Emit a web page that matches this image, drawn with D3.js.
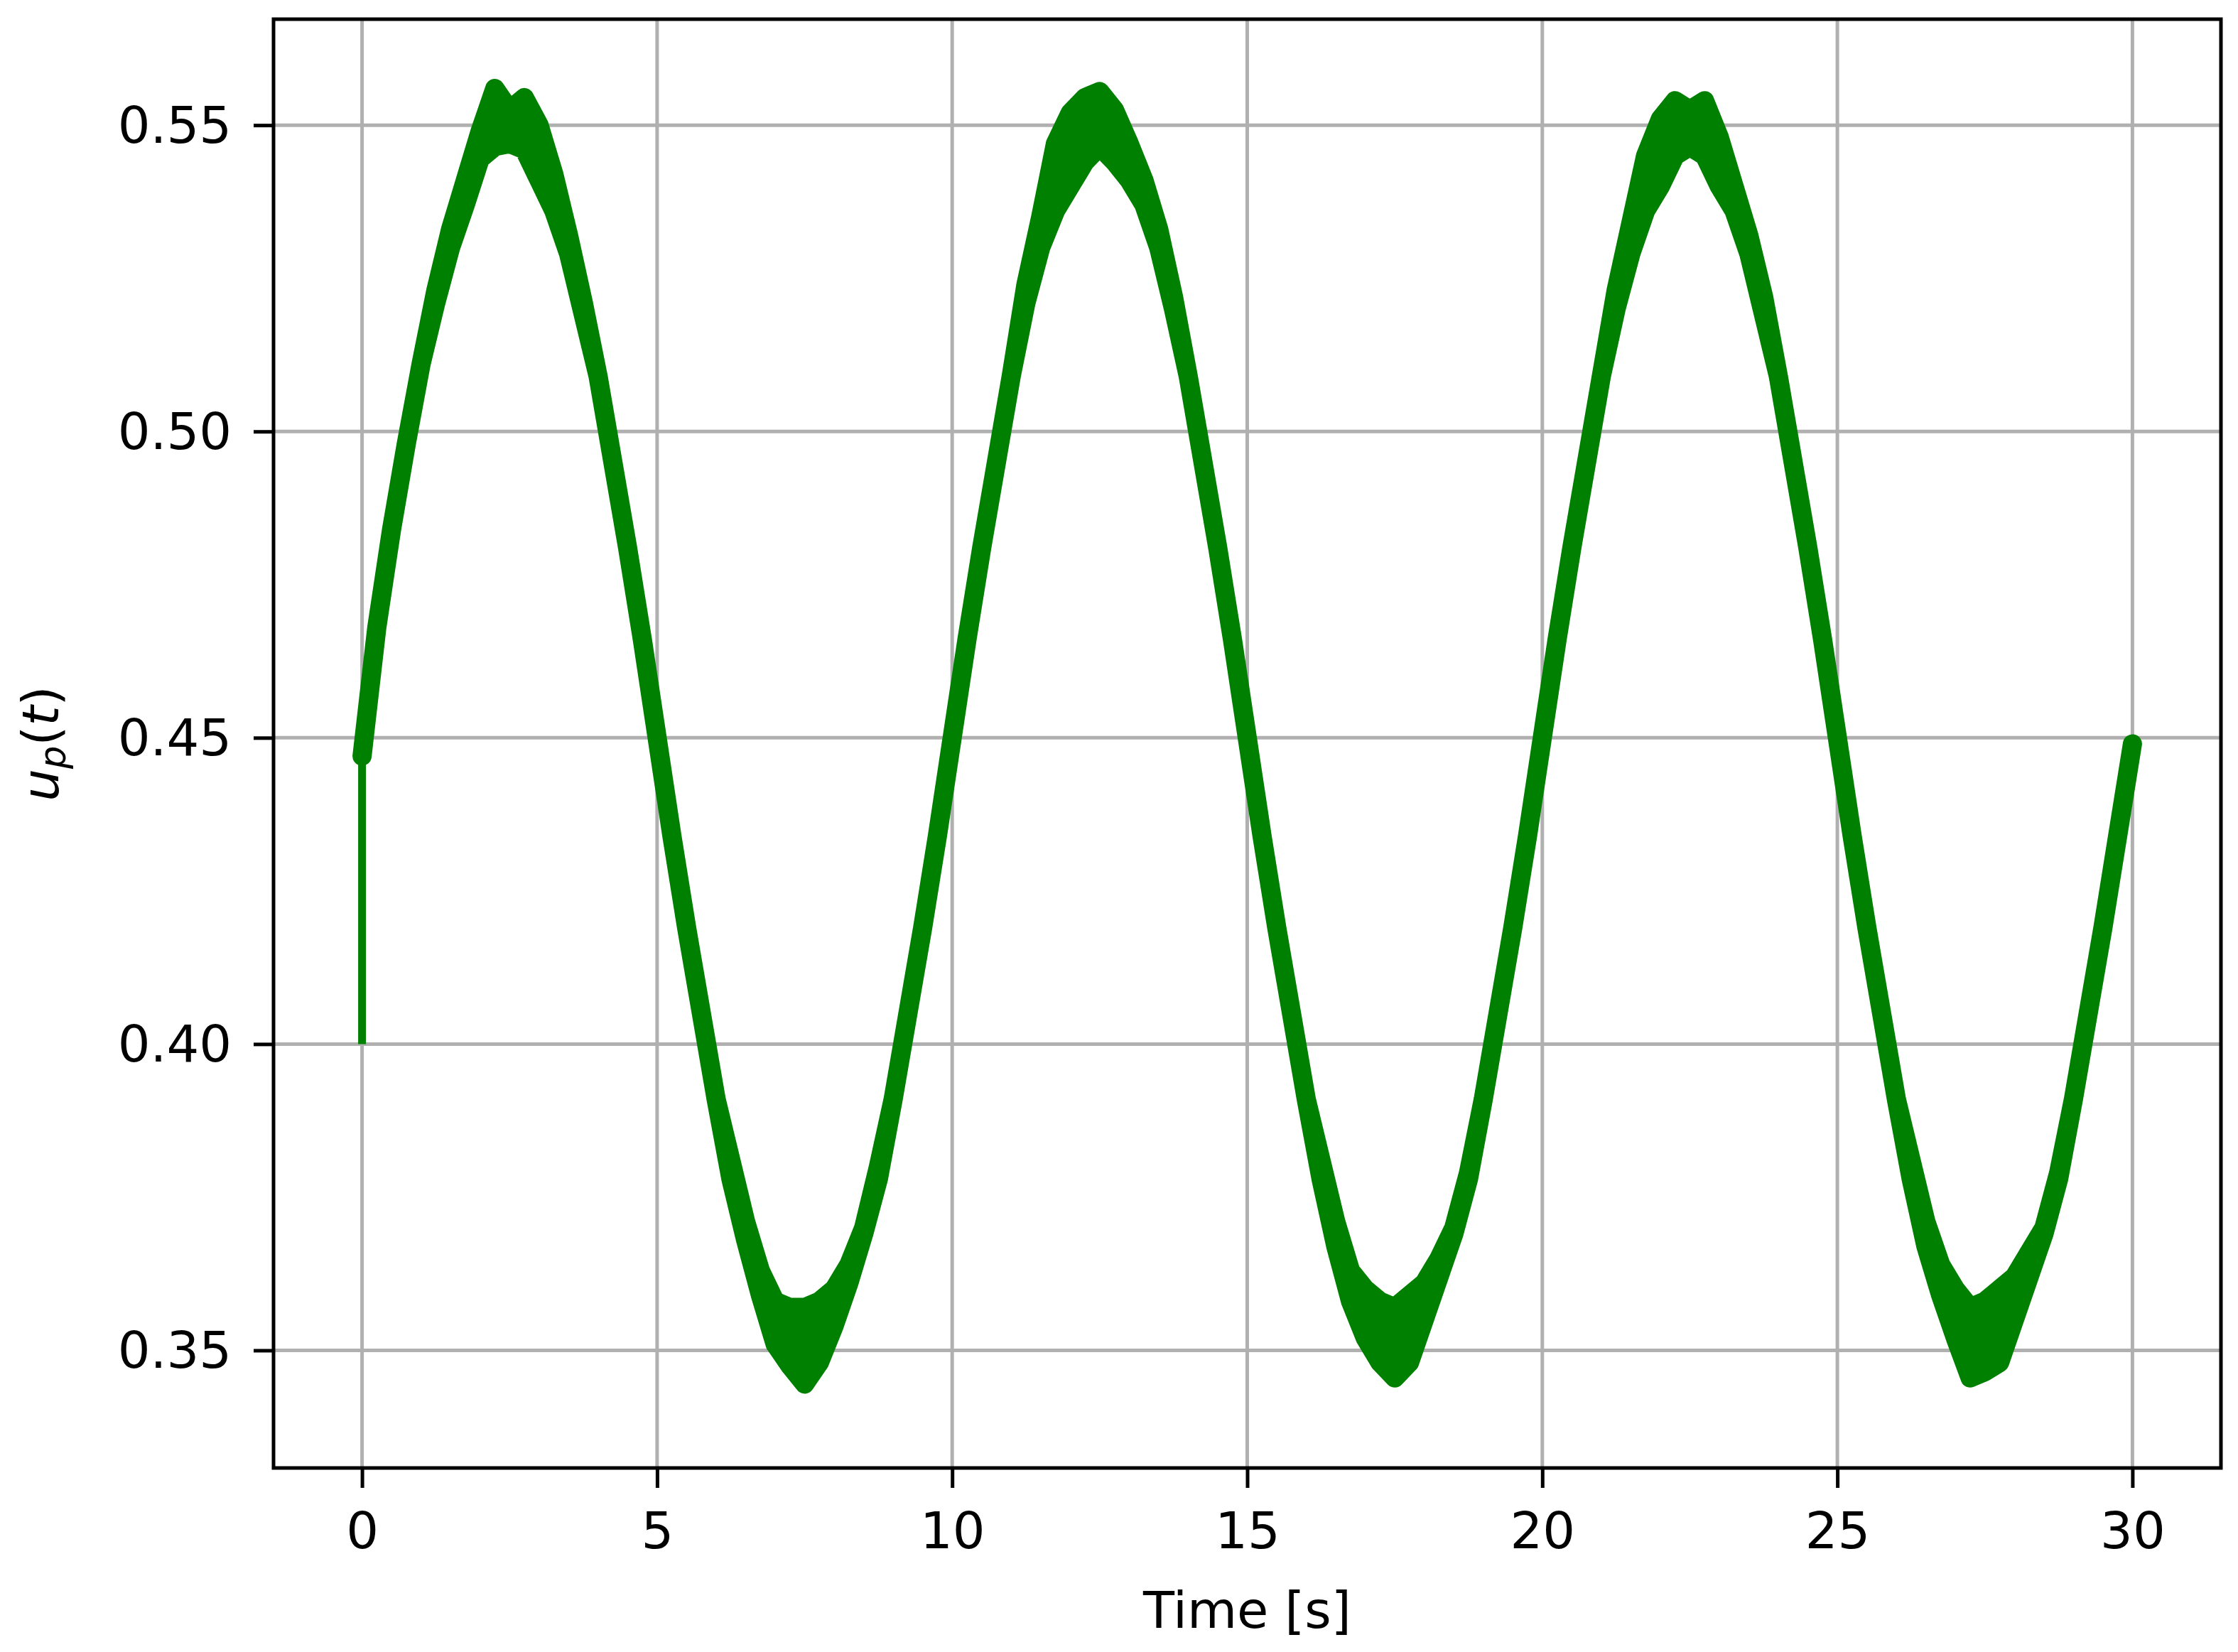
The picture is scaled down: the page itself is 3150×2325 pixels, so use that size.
<!DOCTYPE html>
<html>
<head>
<meta charset="utf-8">
<script src="https://cdn.jsdelivr.net/npm/d3@7"></script>
<style>
  html, body { margin: 0; padding: 0; background: #ffffff; }
  svg { display: block; }
</style>
</head>
<body>
<div id="chart"></div>
<script>
// sample times [s]
const timeS = [
  0, 0.25, 0.5, 0.75, 1, 1.25, 1.5, 1.75, 2, 2.25, 2.5, 2.75, 3, 3.25, 3.5, 3.75,
  4, 4.25, 4.5, 4.75, 5, 5.25, 5.5, 5.75, 6, 6.25, 6.5, 6.75, 7, 7.25, 7.5, 7.75,
  8, 8.25, 8.5, 8.75, 9, 9.25, 9.5, 9.75, 10, 10.25, 10.5, 10.75, 11, 11.25, 11.5, 11.75,
  12, 12.25, 12.5, 12.75, 13, 13.25, 13.5, 13.75, 14, 14.25, 14.5, 14.75, 15, 15.25, 15.5, 15.75,
  16, 16.25, 16.5, 16.75, 17, 17.25, 17.5, 17.75, 18, 18.25, 18.5, 18.75, 19, 19.25, 19.5, 19.75,
  20, 20.25, 20.5, 20.75, 21, 21.25, 21.5, 21.75, 22, 22.25, 22.5, 22.75, 23, 23.25, 23.5, 23.75,
  24, 24.25, 24.5, 24.75, 25, 25.25, 25.5, 25.75, 26, 26.25, 26.5, 26.75, 27, 27.25, 27.5, 27.75,
  28, 28.25, 28.5, 28.75, 29, 29.25, 29.5, 29.75, 30
];

// upper / lower edge of the noisy u_p(t) trace
const upperTrace = [
  0.447, 0.468, 0.484, 0.498, 0.511, 0.523, 0.533, 0.541, 0.549, 0.556, 0.5525, 0.5545, 0.550, 0.542, 0.532, 0.521,
  0.509, 0.495, 0.481, 0.466, 0.450, 0.434, 0.419, 0.405, 0.391, 0.381, 0.371, 0.363, 0.358, 0.357, 0.357, 0.358,
  0.360, 0.364, 0.370, 0.380, 0.391, 0.405, 0.419, 0.434, 0.450, 0.466, 0.481, 0.495, 0.509, 0.524, 0.535, 0.547,
  0.552, 0.5545, 0.5555, 0.5525, 0.547, 0.541, 0.533, 0.522, 0.509, 0.495, 0.481, 0.466, 0.450, 0.434, 0.419, 0.405,
  0.391, 0.381, 0.371, 0.363, 0.360, 0.358, 0.357, 0.359, 0.361, 0.365, 0.370, 0.379, 0.391, 0.405, 0.419, 0.434,
  0.450, 0.466, 0.481, 0.495, 0.509, 0.523, 0.534, 0.545, 0.551, 0.554, 0.5525, 0.554, 0.548, 0.540, 0.532, 0.522,
  0.509, 0.495, 0.481, 0.466, 0.450, 0.434, 0.419, 0.405, 0.391, 0.381, 0.371, 0.364, 0.360, 0.357, 0.358, 0.360,
  0.362, 0.366, 0.370, 0.379, 0.391, 0.405, 0.419, 0.434, 0.449
];
const lowerTrace = [
  0.447, 0.468, 0.484, 0.498, 0.511, 0.521, 0.530, 0.537, 0.5445, 0.5465, 0.547, 0.546, 0.541, 0.536, 0.529, 0.519,
  0.509, 0.495, 0.481, 0.466, 0.450, 0.434, 0.419, 0.405, 0.391, 0.378, 0.368, 0.359, 0.351, 0.3475, 0.3445, 0.348,
  0.354, 0.361, 0.369, 0.378, 0.391, 0.405, 0.419, 0.434, 0.450, 0.466, 0.481, 0.495, 0.509, 0.521, 0.530, 0.536,
  0.540, 0.544, 0.5465, 0.544, 0.541, 0.537, 0.530, 0.520, 0.509, 0.495, 0.481, 0.466, 0.450, 0.434, 0.419, 0.405,
  0.391, 0.378, 0.367, 0.358, 0.352, 0.348, 0.3455, 0.348, 0.355, 0.362, 0.369, 0.378, 0.391, 0.405, 0.419, 0.434,
  0.450, 0.466, 0.481, 0.495, 0.509, 0.520, 0.529, 0.536, 0.540, 0.545, 0.5465, 0.545, 0.540, 0.536, 0.529, 0.519,
  0.509, 0.495, 0.481, 0.466, 0.450, 0.434, 0.419, 0.405, 0.391, 0.378, 0.367, 0.359, 0.352, 0.3455, 0.3465, 0.348,
  0.355, 0.362, 0.369, 0.378, 0.391, 0.405, 0.419, 0.434, 0.449
];

// initial jump at t = 0
const transientT = [0, 0];
const transientV = [0.400, 0.447];

const xTicks = [0, 5, 10, 15, 20, 25, 30];
const yTicks = [0.35, 0.40, 0.45, 0.50, 0.55];

document.addEventListener("DOMContentLoaded", setup);

function setup() {
  const width = 3150;
  const height = 2325;
  const plot = { left: 385, right: 3126, top: 27, bottom: 2066 };
  const font = "'DejaVu Sans', sans-serif";

  const svg = d3
    .select("#chart")
    .append("svg")
    .attr("width", width)
    .attr("height", height)
    .style("background", "#ffffff");

  const x = d3.scaleLinear().domain([-1.5, 31.5]).range([plot.left, plot.right]);
  const y = d3.scaleLinear().domain([0.3308, 0.5673]).range([plot.bottom, plot.top]);

  // grid
  const grid = svg.append("g").attr("class", "grid");
  grid
    .selectAll(".vgrid")
    .data(xTicks)
    .enter()
    .append("line")
    .attr("x1", (d) => x(d))
    .attr("x2", (d) => x(d))
    .attr("y1", plot.top)
    .attr("y2", plot.bottom)
    .attr("stroke", "#b0b0b0")
    .attr("stroke-width", 5);
  grid
    .selectAll(".hgrid")
    .data(yTicks)
    .enter()
    .append("line")
    .attr("x1", plot.left)
    .attr("x2", plot.right)
    .attr("y1", (d) => y(d))
    .attr("y2", (d) => y(d))
    .attr("stroke", "#b0b0b0")
    .attr("stroke-width", 5);

  // trace
  const traceData = timeS.map((t, i) => ({ t: t, hi: upperTrace[i], lo: lowerTrace[i] }));
  const band = d3
    .area()
    .x((d) => x(d.t))
    .y0((d) => y(d.lo))
    .y1((d) => y(d.hi));

  svg
    .append("path")
    .datum(transientT.map((t, i) => ({ t: t, v: transientV[i] })))
    .attr("d", d3.line().x((d) => x(d.t)).y((d) => y(d.v)))
    .attr("fill", "none")
    .attr("stroke", "#008000")
    .attr("stroke-width", 11);

  svg
    .append("path")
    .datum(traceData)
    .attr("d", band)
    .attr("fill", "#008000")
    .attr("stroke", "#008000")
    .attr("stroke-width", 27)
    .attr("stroke-linejoin", "round");

  // axes
  const xAxis = svg
    .append("g")
    .attr("transform", "translate(0," + plot.bottom + ")")
    .call(d3.axisBottom(x).tickValues(xTicks).tickSize(28).tickFormat(d3.format("d")));
  const yAxis = svg
    .append("g")
    .attr("transform", "translate(" + plot.left + ",0)")
    .call(d3.axisLeft(y).tickValues(yTicks).tickSize(28).tickFormat(d3.format(".2f")));

  [xAxis, yAxis].forEach((ax) => {
    ax.select(".domain").remove();
    ax.selectAll(".tick line").attr("stroke", "#000000").attr("stroke-width", 5);
    ax.selectAll(".tick text")
      .attr("fill", "#000000")
      .style("font-family", font)
      .style("font-size", "72px");
  });
  xAxis.selectAll(".tick text").attr("y", 113).attr("dy", null);
  yAxis.selectAll(".tick text").attr("x", -59).attr("dy", 24.5);

  // frame
  svg
    .append("rect")
    .attr("x", plot.left)
    .attr("y", plot.top)
    .attr("width", plot.right - plot.left)
    .attr("height", plot.bottom - plot.top)
    .attr("fill", "none")
    .attr("stroke", "#000000")
    .attr("stroke-width", 5);

  // axis labels
  svg
    .append("text")
    .attr("x", (plot.left + plot.right) / 2)
    .attr("y", 2291)
    .attr("text-anchor", "middle")
    .style("font-family", font)
    .style("font-size", "72px")
    .attr("fill", "#000000")
    .text("Time [s]");

  const ylab = svg
    .append("text")
    .attr("transform", "translate(82," + (plot.top + plot.bottom) / 2 + ") rotate(-90)")
    .attr("text-anchor", "middle")
    .style("font-family", font)
    .style("font-size", "72px")
    .attr("fill", "#000000");
  ylab.append("tspan").style("font-style", "italic").text("u");
  ylab.append("tspan").style("font-style", "italic").style("font-size", "51px").attr("dy", 10).text("p");
  ylab.append("tspan").attr("dy", -10).text("(");
  ylab.append("tspan").style("font-style", "italic").text("t");
  ylab.append("tspan").text(")");
}
</script>
</body>
</html>
